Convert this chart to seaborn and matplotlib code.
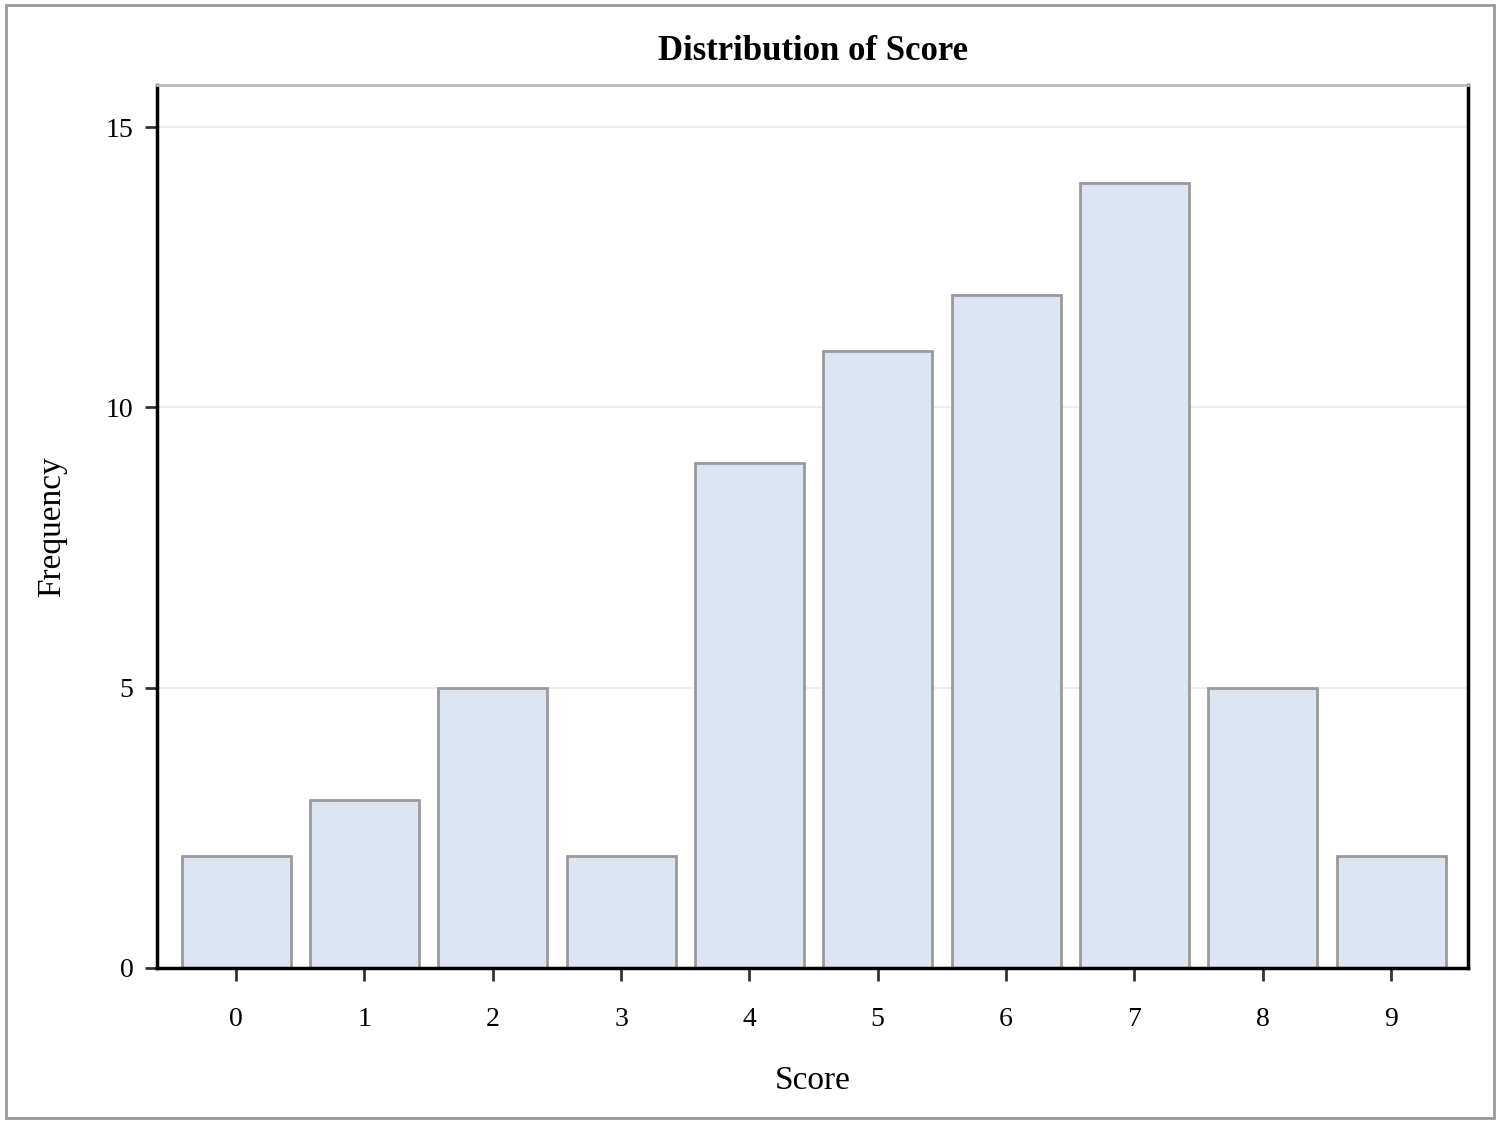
import matplotlib
matplotlib.use("Agg")
import matplotlib.pyplot as plt
import seaborn as sns
import pandas as pd
from matplotlib.patches import Rectangle

scores = ["0", "1", "2", "3", "4", "5", "6", "7", "8", "9"]
frequency = [2, 3, 5, 2, 9, 11, 12, 14, 5, 2]
yticks = [0, 5, 10, 15]

df = pd.DataFrame({"Score": scores, "Frequency": frequency})

sns.set_style("white")
plt.rcParams["font.family"] = ["Liberation Serif", "DejaVu Serif"]
plt.rcParams["text.color"] = "black"
plt.rcParams["axes.labelcolor"] = "black"
plt.rcParams["xtick.color"] = "black"
plt.rcParams["ytick.color"] = "black"

fig = plt.figure(figsize=(15, 11.25), dpi=100)
ax = fig.add_axes([0.1047, 0.1396, 0.874, 0.7848])

sns.barplot(data=df, x="Score", y="Frequency", ax=ax, color="#DCE6F2",
            saturation=1, edgecolor="#9A9A9A", linewidth=2, width=0.85)

ax.set_xlim(-0.616, 9.6)
ax.set_ylim(0, 15.75)
ax.set_yticks(yticks)
ax.set_yticklabels([str(v) for v in yticks])
for v in yticks[1:]:
    ax.axhline(v, color="#EDEDED", lw=1.5, zorder=0)

for s in ["left", "bottom", "right"]:
    ax.spines[s].set_color("black")
    ax.spines[s].set_linewidth(2.5)
ax.spines["top"].set_color("#BBBBBB")
ax.spines["top"].set_linewidth(2)

ax.tick_params(axis="both", direction="out", length=9, width=2, color="#333333",
               labelsize=20, bottom=True, left=True)
ax.tick_params(axis="x", pad=19)
ax.tick_params(axis="y", pad=8)

ax.set_xlabel("Score", fontsize=24, labelpad=24)
ax.set_ylabel("Frequency", fontsize=24, labelpad=28)
ax.set_title("Distribution of Score", fontsize=25, fontweight="bold", pad=18)

fig.patches.append(Rectangle((0.004, 0.006), 0.992, 0.99, transform=fig.transFigure,
                             fill=False, edgecolor="#999999", linewidth=2))

fig.savefig("out.png", dpi=100)
